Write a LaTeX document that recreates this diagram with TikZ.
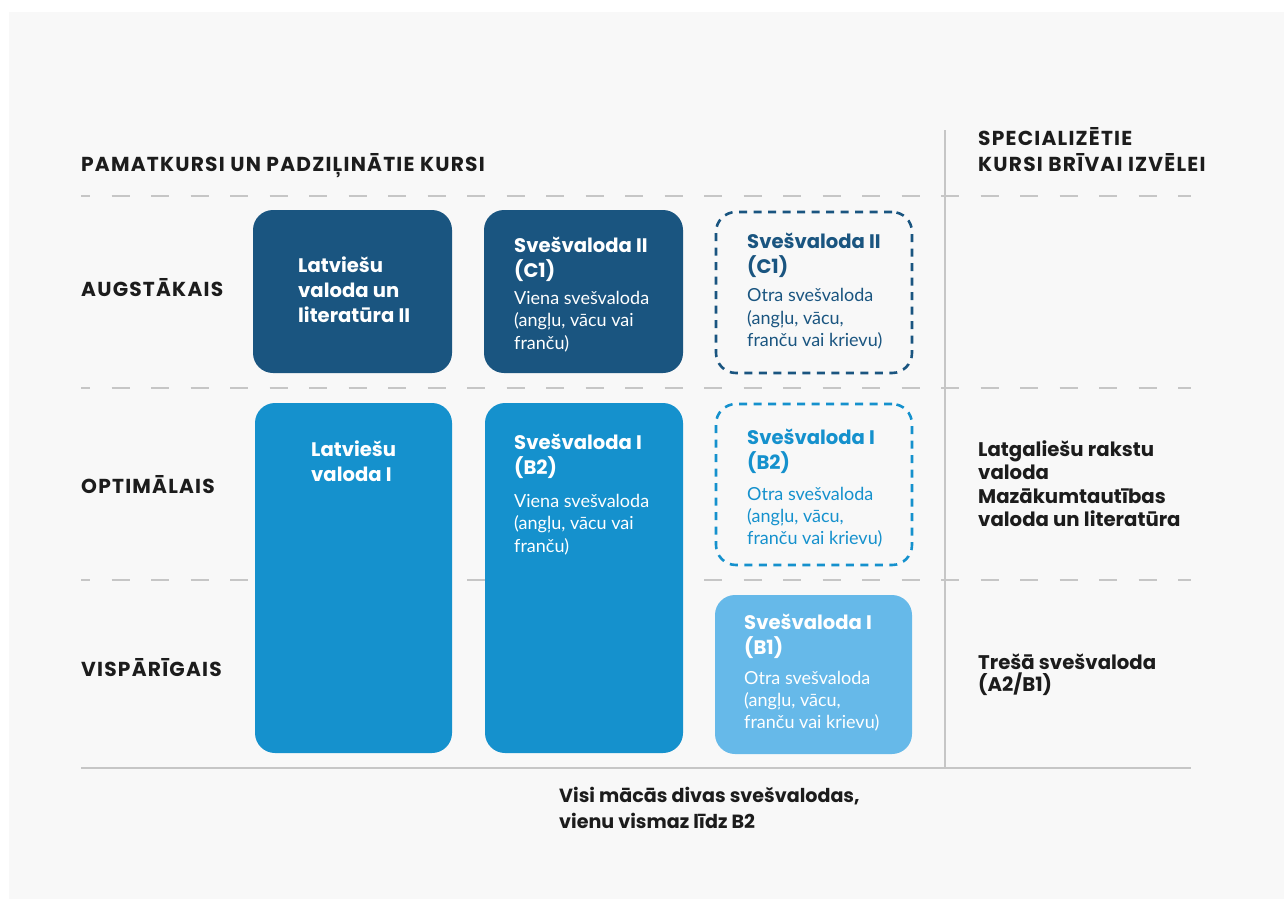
\documentclass[tikz,border=0pt]{standalone}
\usepackage{fontspec}
\setmainfont{Poppins}
\newfontfamily\latofont{Lato}
\newfontfamily\capsfont{Poppins}[LetterSpace=6]
\definecolor{bg}{HTML}{F8F8F8}
\definecolor{ink}{HTML}{1C1C1C}
\definecolor{rule}{HTML}{C6C6C6}
\definecolor{navy}{HTML}{1A5580}
\definecolor{mid}{HTML}{1591CD}
\definecolor{light}{HTML}{66B9E9}
\newcommand{\mlines}[2]{\vtop{\baselineskip=#1\lineskiplimit=-100pt\halign{##\hfil\cr#2\cr}}}
\tikzset{
  card/.style={rectangle, rounded corners=20pt, anchor=north west, inner sep=0pt, outer sep=0pt},
  solidcard/.style={card, fill=#1},
  dashcard/.style={card, draw=#1, line width=2.6pt, dash pattern=on 8pt off 6.5pt},
  ttl/.style={anchor=base west, inner sep=0pt, font=\fontsize{19.6}{23}\selectfont\bfseries},
  dsc/.style={anchor=base west, inner sep=0pt, font=\fontsize{18}{21}\selectfont\latofont},
  lbl/.style={anchor=base west, inner sep=0pt, text=ink, font=\fontsize{20.2}{23}\selectfont\capsfont\bfseries},
  side/.style={anchor=base west, inner sep=0pt, text=ink, font=\fontsize{19.7}{23}\selectfont\bfseries},
  notetext/.style={anchor=base west, inner sep=0pt, text=ink, font=\fontsize{19.1}{23}\selectfont\bfseries},
  guide/.style={draw=rule, line width=2pt, dash pattern=on 18pt off 21.5pt, dash phase=9pt},
  solidrule/.style={draw=rule, line width=1.6pt}
}
\begin{document}
\begin{tikzpicture}[x=1pt,y=-1pt]
\useasboundingbox (0,0) rectangle (1284,899);
\fill[white] (0,0) rectangle (1284,899);
\fill[bg] (9,12) rectangle (1284,899);

% guide lines
\coordinate (g1l) at (81,196); \coordinate (g1r) at (1191,196);
\coordinate (g2l) at (81,388); \coordinate (g2r) at (1191,388);
\coordinate (g3l) at (81,580); \coordinate (g3r) at (1191,580);
\coordinate (bl) at (81,768); \coordinate (br) at (1191,768);
\coordinate (vt) at (945,130); \coordinate (vb) at (945,768);
\draw[guide] (g1l) -- (g1r);
\draw[guide] (g2l) -- (g2r);
\draw[guide] (g3l) -- (g3r);
\draw[solidrule] (bl) -- (br);
\draw[solidrule] (vt) -- (vb);

% headers
\node[lbl] (hdr) at (81,171.5) {PAMATKURSI UN PADZIĻINĀTIE KURSI};
\node[lbl] (hdr2) at (978,145) {\mlines{26pt}{SPECIALIZĒTIE\cr KURSI BRĪVAI IZVĒLEI}};

% row labels
\node[lbl] (r1) at (81,296) {AUGSTĀKAIS};
\node[lbl] (r2) at (81,493) {OPTIMĀLAIS};
\node[lbl] (r3) at (81,676) {VISPĀRĪGAIS};

% cards
\node[solidcard=navy, minimum width=199pt, minimum height=163pt] (b1) at (253,210) {};
\node[solidcard=navy, minimum width=199pt, minimum height=163pt] (b2) at (484,210) {};
\node[dashcard=navy, minimum width=196pt, minimum height=161pt] (b3) at (716,212) {};
\node[solidcard=mid, minimum width=197pt, minimum height=350pt] (b4) at (255,403) {};
\node[solidcard=mid, minimum width=198pt, minimum height=350pt] (b5) at (485,403) {};
\node[dashcard=mid, minimum width=196pt, minimum height=161pt] (b6) at (716,404) {};
\node[solidcard=light, minimum width=197pt, minimum height=159pt] (b7) at (715,595) {};

% card texts
\node[ttl, text=white] (t1) at (298,272) {\mlines{25pt}{Latviešu\cr valoda un\cr literatūra II}};
\node[ttl, text=white] (t2) at (514,252.5) {\mlines{25pt}{Svešvaloda II\cr (C1)}};
\node[dsc, text=white] (d2) at (514,304) {\mlines{22.5pt}{Viena svešvaloda\cr (angļu, vācu vai\cr franču)}};
\node[ttl, text=navy] (t3) at (747,248) {\mlines{25pt}{Svešvaloda II\cr (C1)}};
\node[dsc, text=navy] (d3) at (747,301.5) {\mlines{22.5pt}{Otra svešvaloda\cr (angļu, vācu,\cr franču vai krievu)}};
\node[ttl, text=white] (t4) at (311,456) {\mlines{25pt}{Latviešu\cr valoda I}};
\node[ttl, text=white] (t5) at (514,449.5) {\mlines{25pt}{Svešvaloda I\cr (B2)}};
\node[dsc, text=white] (d5) at (514,507) {\mlines{22.5pt}{Viena svešvaloda\cr (angļu, vācu vai\cr franču)}};
\node[ttl, text=mid] (t6) at (747,444) {\mlines{25pt}{Svešvaloda I\cr (B2)}};
\node[dsc, text=mid] (d6) at (747,500) {\mlines{22pt}{Otra svešvaloda\cr (angļu, vācu,\cr franču vai krievu)}};
\node[ttl, text=white] (t7) at (744,629) {\mlines{25pt}{Svešvaloda I\cr (B1)}};
\node[dsc, text=white] (d7) at (744,684) {\mlines{22pt}{Otra svešvaloda\cr (angļu, vācu,\cr franču vai krievu)}};

% side column
\node[side] (s1) at (978,456) {\mlines{23.5pt}{Latgaliešu rakstu\cr valoda\cr Mazākumtautības\cr valoda un literatūra}};
\node[side] (s2) at (978,669) {\mlines{22.5pt}{Trešā svešvaloda\cr (A2/B1)}};

% bottom note
\node[notetext] (note) at (559,802) {\mlines{26pt}{Visi mācās divas svešvalodas,\cr vienu vismaz līdz B2}};
\end{tikzpicture}
\end{document}
